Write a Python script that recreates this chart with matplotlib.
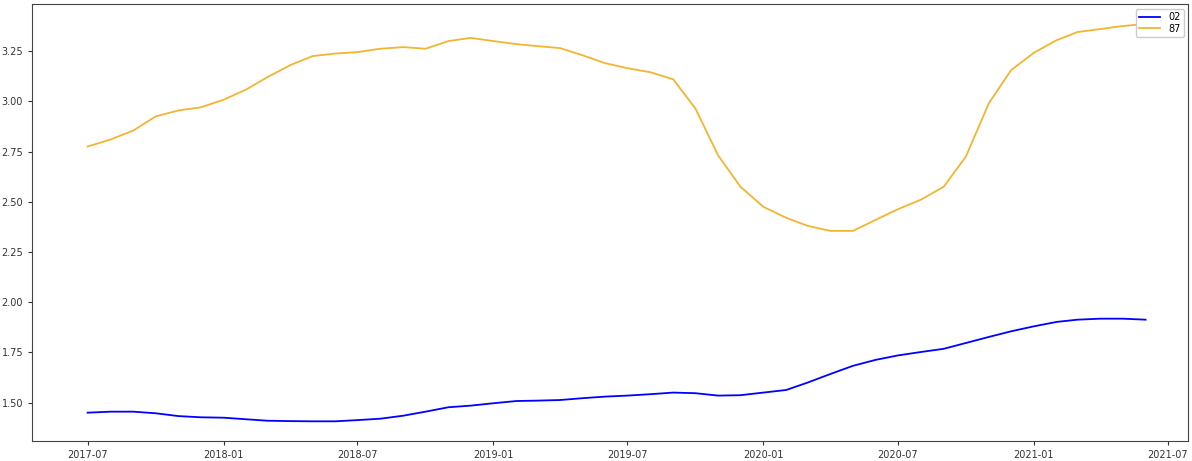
import pandas as pd
import matplotlib
matplotlib.use('Agg')
import matplotlib.pyplot as plt
import matplotlib.dates as mdates

# === Data (monthly) ===
months = pd.date_range('2017-07-01', '2021-06-01', freq='MS')

series_02 = [1.450, 1.455, 1.455, 1.447, 1.433, 1.427, 1.425, 1.417, 1.410, 1.408,
             1.407, 1.407, 1.413, 1.420, 1.435, 1.455, 1.477, 1.485, 1.497, 1.508,
             1.510, 1.513, 1.522, 1.530, 1.535, 1.542, 1.550, 1.547, 1.535, 1.537,
             1.550, 1.563, 1.600, 1.643, 1.683, 1.713, 1.735, 1.752, 1.768, 1.797,
             1.827, 1.855, 1.880, 1.902, 1.913, 1.918, 1.918, 1.913]

series_87 = [2.775, 2.810, 2.855, 2.925, 2.955, 2.970, 3.008, 3.060, 3.120, 3.180,
             3.225, 3.238, 3.245, 3.262, 3.270, 3.262, 3.300, 3.316, 3.300, 3.285,
             3.275, 3.265, 3.230, 3.190, 3.165, 3.145, 3.110, 2.965, 2.730, 2.575,
             2.475, 2.420, 2.380, 2.355, 2.355, 2.410, 2.463, 2.510, 2.575, 2.725,
             2.990, 3.155, 3.242, 3.305, 3.345, 3.360, 3.375, 3.385]

labels = ['02', '87']

# === Plot ===
fig = plt.figure(figsize=(11.92, 4.61), dpi=100)
ax = fig.add_axes([0.027, 0.043, 0.970, 0.948])

ax.plot(months, series_02, color='blue', linewidth=1.3, label=labels[0])
ax.plot(months, series_87, color='#f2b530', linewidth=1.3, label=labels[1])

ax.set_xlim(pd.Timestamp('2017-04-17'), pd.Timestamp('2021-07-29'))
ax.xaxis.set_major_locator(mdates.MonthLocator(bymonth=[1, 7]))
ax.xaxis.set_major_formatter(mdates.DateFormatter('%Y-%m'))
ax.set_yticks([1.50, 1.75, 2.00, 2.25, 2.50, 2.75, 3.00, 3.25])
ax.tick_params(labelsize=7, length=3, colors='#333333')

for s in ax.spines.values():
    s.set_color('#444444')
    s.set_linewidth(0.8)

ax.legend(loc='upper right', fontsize=7, handlelength=2.2, borderpad=0.3,
          labelspacing=0.2, framealpha=1.0)

fig.savefig('out.png', dpi=100)
